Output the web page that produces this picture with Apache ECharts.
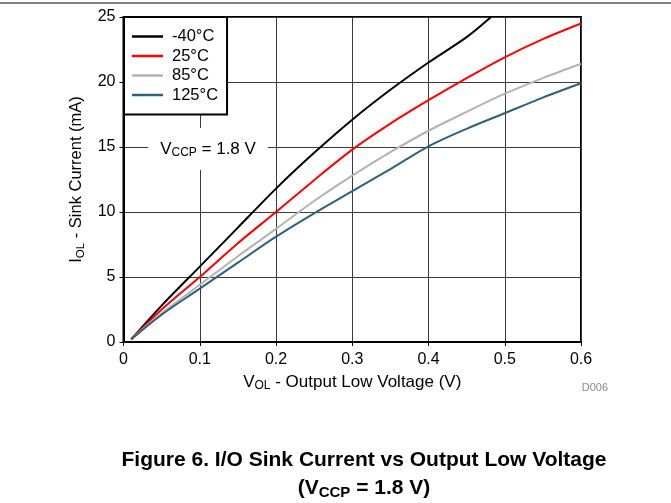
<!DOCTYPE html>
<html>
<head>
<meta charset="utf-8">
<script src="https://cdn.jsdelivr.net/npm/echarts@6/dist/echarts.min.js"></script>
<style>
html,body{margin:0;padding:0;background:#fff;}
#c{width:671px;height:503px;}
</style>
</head>
<body>
<div id="c"></div>
<script>
// Data
const seriesNames = ['-40°C', '25°C', '85°C', '125°C'];
const volts = [0.01, 0.05, 0.1, 0.15, 0.2, 0.25, 0.3, 0.35, 0.4, 0.45, 0.5, 0.55, 0.6];
const voltsM40 = [0.01, 0.05, 0.1, 0.15, 0.2, 0.25, 0.3, 0.35, 0.4, 0.45, 0.482];
const iM40 = [0.2, 2.8, 5.8, 8.8, 11.8, 14.55, 17.1, 19.4, 21.5, 23.45, 25.0];
const i25  = [0.2, 2.5, 5.0, 7.6, 10.0, 12.45, 14.8, 16.8, 18.6, 20.3, 21.9, 23.3, 24.5];
const i85  = [0.2, 2.2, 4.4, 6.6, 8.7, 10.85, 12.8, 14.6, 16.25, 17.7, 19.1, 20.3, 21.4];
const i125 = [0.2, 2.1, 4.1, 6.1, 8.1, 9.9, 11.6, 13.3, 15.05, 16.4, 17.6, 18.8, 19.9];
const colors = ['#000000', '#ff0000', '#b3b3b3', '#2f607a'];

const pairs = (xs, ys) => ys.map((y, i) => [xs[i], y]);
const dataSets = [pairs(voltsM40, iM40), pairs(volts, i25), pairs(volts, i85), pairs(volts, i125)];

const FONT = 'Liberation Sans, Arial, sans-serif';
const chart = echarts.init(document.getElementById('c'));
chart.setOption({
  animation: false,
  textStyle: { fontFamily: FONT },
  grid: { left: 123.5, right: 90, top: 17, bottom: 161, show: true, borderColor: '#000', borderWidth: 2, backgroundColor: 'transparent' },
  xAxis: {
    type: 'value', min: 0, max: 0.6, interval: 0.1,
    name: '{a|V}{s|OL}{a| - Output Low Voltage (V)}',
    nameLocation: 'middle', nameGap: 30,
    nameTextStyle: { rich: {
      a: { fontSize: 17, lineHeight: 20, color: '#000', fontFamily: FONT },
      s: { fontSize: 12, lineHeight: 12, verticalAlign: 'bottom', color: '#000', fontFamily: FONT }
    } },
    axisLine: { show: true, lineStyle: { color: '#000', width: 2 } },
    axisTick: { show: true, length: 4, inside: false, lineStyle: { color: '#000' } },
    axisLabel: { fontSize: 16, color: '#000', margin: 10, fontFamily: FONT },
    splitLine: { show: true, lineStyle: { color: '#3a3a3a', width: 1 } }
  },
  yAxis: {
    type: 'value', min: 0, max: 25, interval: 5,
    name: '{a|I}{s|OL}{a| - Sink Current (mA)}',
    nameLocation: 'middle', nameGap: 36,
    nameTextStyle: { rich: {
      a: { fontSize: 16.5, lineHeight: 20, color: '#000', fontFamily: FONT },
      s: { fontSize: 11.5, lineHeight: 11, verticalAlign: 'bottom', color: '#000', fontFamily: FONT }
    } },
    axisLine: { show: true, lineStyle: { color: '#000', width: 2 } },
    axisTick: { show: true, length: 4, inside: false, lineStyle: { color: '#000' } },
    axisLabel: { fontSize: 16, color: '#000', margin: 8, fontFamily: FONT },
    splitLine: { show: true, lineStyle: { color: '#3a3a3a', width: 1 } }
  },
  legend: {
    orient: 'vertical', left: 124, top: 17,
    padding: [11, 9, 11, 8], itemGap: 2.5, itemWidth: 31, itemHeight: 2.5, icon: 'rect',
    backgroundColor: '#fff', borderColor: '#000', borderWidth: 2,
    textStyle: { fontSize: 16.5, lineHeight: 14, color: '#000', fontFamily: FONT, padding: [0, 0, 0, 4] },
    data: seriesNames, z: 6
  },
  series: seriesNames.map((n, k) => ({
    name: n, type: 'line', data: dataSets[k], smooth: 0.3,
    symbol: 'none', showSymbol: false, clip: true,
    lineStyle: { color: colors[k], width: 2 }, itemStyle: { color: colors[k] }, z: 3
  })),
  graphic: [
    { type: 'line', shape: { x1: 0, y1: 3, x2: 671, y2: 3 }, style: { stroke: '#000', lineWidth: 1 } },
    { type: 'text', z: 5, x: 208, y: 149, style: {
      text: '{a|V}{s|CCP}{a| = 1.8 V}', align: 'center', verticalAlign: 'middle',
      backgroundColor: '#fff', padding: [11, 12],
      rich: {
        a: { fontSize: 17, lineHeight: 20, fill: '#000', fontFamily: FONT },
        s: { fontSize: 12, lineHeight: 12, verticalAlign: 'bottom', fill: '#000', fontFamily: FONT }
      }
    } },
    { type: 'text', x: 608, y: 388, style: { text: 'D006', align: 'right', verticalAlign: 'middle', fontSize: 11, fill: '#8c8c8c', fontFamily: FONT } },
    { type: 'text', x: 364, y: 460, style: { text: 'Figure 6. I/O Sink Current vs Output Low Voltage', align: 'center', verticalAlign: 'middle', fontSize: 21, fontWeight: 'bold', fill: '#000', fontFamily: FONT } },
    { type: 'text', x: 364, y: 488, style: {
      text: '{a|(V}{s|CCP}{a| = 1.8 V)}', align: 'center', verticalAlign: 'middle',
      rich: {
        a: { fontSize: 21, lineHeight: 24, fontWeight: 'bold', fill: '#000', fontFamily: FONT },
        s: { fontSize: 15, lineHeight: 14, fontWeight: 'bold', verticalAlign: 'bottom', fill: '#000', fontFamily: FONT }
      }
    } }
  ]
});
</script>
</body>
</html>
